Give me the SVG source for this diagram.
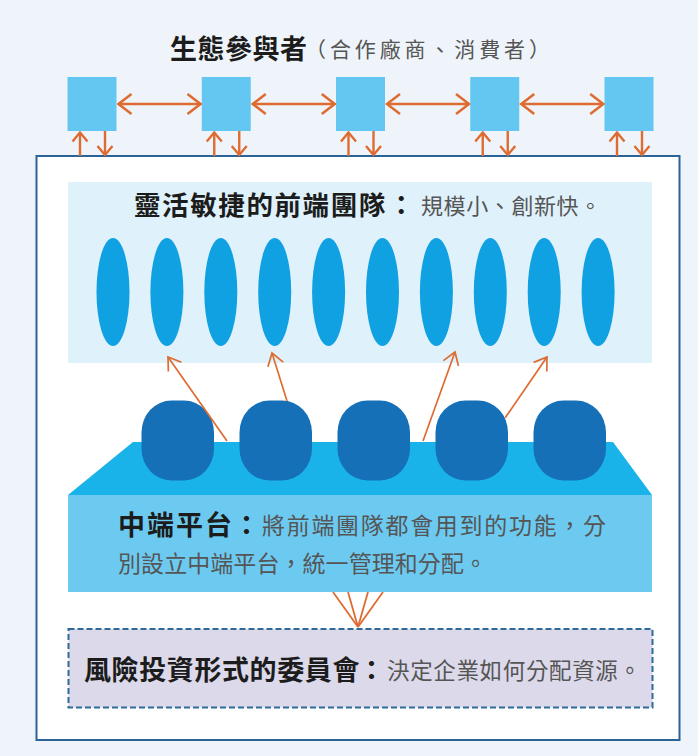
<svg xmlns="http://www.w3.org/2000/svg" width="698" height="756" viewBox="0 0 698 756">
<style>
.bold{font-family:"Noto Sans CJK TC","Noto Sans CJK SC",sans-serif;font-weight:700;fill:#1c1c1c}
.reg{font-family:"Noto Sans CJK TC","Noto Sans CJK SC",sans-serif;font-weight:400;fill:#555}
.sq{fill:#63c7f1}
.ell{fill:#0fa1e2}
.blob{fill:#1570b8}
.arr{stroke:#de6c32;fill:none}
</style>
<defs>
<marker id="ahBig" markerUnits="userSpaceOnUse" viewBox="-16 -12 18 24" refX="0" refY="0" markerWidth="18" markerHeight="24" orient="auto-start-reverse">
<path d="M-13,-10 L0,0 L-13,10" fill="none" stroke="#de6c32" stroke-width="2.6"/>
</marker>
<marker id="ahSmall" markerUnits="userSpaceOnUse" viewBox="-12 -10 14 20" refX="0" refY="0" markerWidth="14" markerHeight="20" orient="auto">
<path d="M-9,-7.5 L0,0 L-9,7.5" fill="none" stroke="#de6c32" stroke-width="2.4"/>
</marker>
<marker id="ahThin" markerUnits="userSpaceOnUse" viewBox="-14 -10 16 20" refX="0" refY="0" markerWidth="16" markerHeight="20" orient="auto">
<path d="M-12,-8 L0,0 L-12,8" fill="none" stroke="#de6c32" stroke-width="1.7"/>
</marker>
</defs>
<rect x="0" y="0" width="698" height="756" fill="#eef4f9"/>

<g id="title">
<text class="bold" x="170" y="59" font-size="27" letter-spacing="0.5">生態參與者</text>
<text class="reg" x="305" y="57" font-size="21" textLength="245" lengthAdjust="spacing" fill="#444">（合作廠商、消費者）</text>
</g>

<g id="participants">
<rect class="sq" x="67.5" y="77" width="49" height="54"/>
<rect class="sq" x="201.75" y="77" width="49" height="54"/>
<rect class="sq" x="336" y="77" width="49" height="54"/>
<rect class="sq" x="470.25" y="77" width="49" height="54"/>
<rect class="sq" x="604.5" y="77" width="49" height="54"/>
</g>

<g id="frame">
<rect x="36.5" y="156" width="643" height="584" fill="#ffffff" stroke="#2a6398" stroke-width="2"/>
</g>

<g id="front-teams">
<rect x="68" y="182" width="584" height="181" fill="#dff1fb"/>
<text class="bold" x="134" y="215" font-size="26.5" letter-spacing="1.6">靈活敏捷的前端團隊</text>
<text class="bold" x="388" y="215" font-size="26.5">：</text>
<text class="reg" x="421" y="214" font-size="22" letter-spacing="0.6">規模小、創新快。</text>
<ellipse class="ell" cx="113" cy="292" rx="16.5" ry="54"/>
<ellipse class="ell" cx="166.9" cy="292" rx="16.5" ry="54"/>
<ellipse class="ell" cx="220.8" cy="292" rx="16.5" ry="54"/>
<ellipse class="ell" cx="274.7" cy="292" rx="16.5" ry="54"/>
<ellipse class="ell" cx="328.6" cy="292" rx="16.5" ry="54"/>
<ellipse class="ell" cx="382.5" cy="292" rx="16.5" ry="54"/>
<ellipse class="ell" cx="436.4" cy="292" rx="16.5" ry="54"/>
<ellipse class="ell" cx="490.3" cy="292" rx="16.5" ry="54"/>
<ellipse class="ell" cx="544.2" cy="292" rx="16.5" ry="54"/>
<ellipse class="ell" cx="598.1" cy="292" rx="16.5" ry="54"/>
</g>

<g id="middle-platform">
<polygon points="133,442 613,442 652,495 68,495" fill="#19b3ea"/>
<rect x="68" y="495" width="584" height="97" fill="#6ccaf1"/>
<rect class="blob" x="141.5" y="400.5" width="72.5" height="80" rx="30" ry="32"/>
<rect class="blob" x="239.5" y="400.5" width="72.5" height="80" rx="30" ry="32"/>
<rect class="blob" x="337.5" y="400.5" width="72.5" height="80" rx="30" ry="32"/>
<rect class="blob" x="435.5" y="400.5" width="72.5" height="80" rx="30" ry="32"/>
<rect class="blob" x="533.5" y="400.5" width="72.5" height="80" rx="30" ry="32"/>
<text class="bold" x="118" y="535" font-size="27" letter-spacing="2">中端平台</text>
<text class="bold" x="233" y="535" font-size="27">：</text>
<text class="reg" x="262" y="534" font-size="23" textLength="344" lengthAdjust="spacing">將前端團隊都會用到的功能，分</text>
<text class="reg" x="118" y="572" font-size="23" textLength="369" lengthAdjust="spacing">別設立中端平台，統一管理和分配。</text>
</g>

<g id="committee">
<rect x="68.5" y="629" width="584" height="78.5" fill="#dcd9ea" stroke="#2e6a9a" stroke-width="2" stroke-dasharray="6 3"/>
<text class="bold" x="84" y="680" font-size="27" letter-spacing="0.6">風險投資形式的委員會</text>
<text class="bold" x="358" y="680" font-size="27">：</text>
<text class="reg" x="387" y="679" font-size="22.5" textLength="254" lengthAdjust="spacing">決定企業如何分配資源。</text>
</g>

<g id="connectors">
<g class="arr" stroke-width="2.6">
<line x1="118.5" y1="104" x2="200.5" y2="104" marker-start="url(#ahBig)" marker-end="url(#ahBig)"/>
<line x1="252.75" y1="104" x2="334.75" y2="104" marker-start="url(#ahBig)" marker-end="url(#ahBig)"/>
<line x1="387" y1="104" x2="469" y2="104" marker-start="url(#ahBig)" marker-end="url(#ahBig)"/>
<line x1="521.25" y1="104" x2="603.25" y2="104" marker-start="url(#ahBig)" marker-end="url(#ahBig)"/>
</g>
<g class="arr" stroke-width="2.4">
<line x1="80" y1="156" x2="80" y2="132.5" marker-end="url(#ahSmall)"/>
<line x1="105" y1="131" x2="105" y2="155" marker-end="url(#ahSmall)"/>
<line x1="214.25" y1="156" x2="214.25" y2="132.5" marker-end="url(#ahSmall)"/>
<line x1="239.25" y1="131" x2="239.25" y2="155" marker-end="url(#ahSmall)"/>
<line x1="348.5" y1="156" x2="348.5" y2="132.5" marker-end="url(#ahSmall)"/>
<line x1="373.5" y1="131" x2="373.5" y2="155" marker-end="url(#ahSmall)"/>
<line x1="482.75" y1="156" x2="482.75" y2="132.5" marker-end="url(#ahSmall)"/>
<line x1="507.75" y1="131" x2="507.75" y2="155" marker-end="url(#ahSmall)"/>
<line x1="617" y1="156" x2="617" y2="132.5" marker-end="url(#ahSmall)"/>
<line x1="642" y1="131" x2="642" y2="155" marker-end="url(#ahSmall)"/>
</g>
<g class="arr" stroke-width="1.7">
<line x1="227" y1="441" x2="168" y2="357" marker-end="url(#ahThin)"/>
<line x1="287" y1="401" x2="272" y2="353" marker-end="url(#ahThin)"/>
<line x1="423" y1="441" x2="455" y2="352" marker-end="url(#ahThin)"/>
<line x1="505" y1="418" x2="547" y2="357" marker-end="url(#ahThin)"/>
</g>
<g class="arr" stroke-width="1.8">
<line x1="333" y1="592" x2="358" y2="627"/>
<line x1="348" y1="592" x2="358" y2="627"/>
<line x1="368" y1="592" x2="358" y2="627"/>
<line x1="383" y1="592" x2="358" y2="627"/>
</g>
</g>
</svg>
